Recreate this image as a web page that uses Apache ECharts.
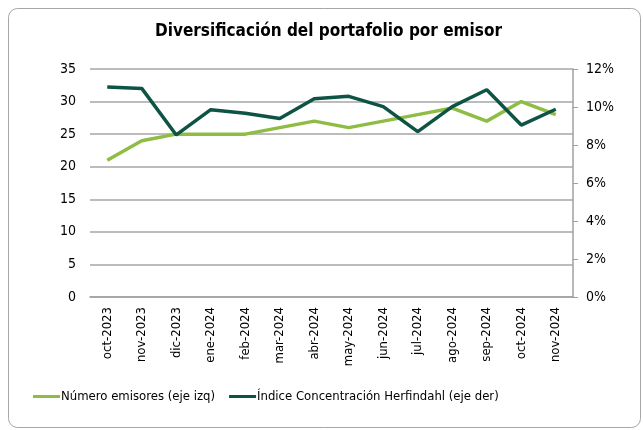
<!DOCTYPE html>
<html><head><meta charset="utf-8">
<script src="https://cdn.jsdelivr.net/npm/echarts@6/dist/echarts.min.js"></script>
<style>html,body{margin:0;padding:0;background:#fff}#c{width:643px;height:430px}</style>
</head><body><div id="c"></div>
<script>
const categories = ['oct-2023','nov-2023','dic-2023','ene-2024','feb-2024','mar-2024','abr-2024','may-2024','jun-2024','jul-2024','ago-2024','sep-2024','oct-2024','nov-2024'];
const numeroEmisores = [21,24,25,25,25,26,27,26,27,28,29,27,30,28];
const herfindahl = [0.1105,0.1098,0.0853,0.0986,0.0967,0.0939,0.1044,0.1056,0.1002,0.0870,0.1002,0.1091,0.0905,0.0988];
const leftTicks = {min:0,max:35,interval:5};
const rightTicks = {min:0,max:0.12,interval:0.02};

const chart = echarts.init(document.getElementById('c'), null, {renderer:'canvas'});
const font = "'DejaVu Sans Condensed','DejaVu Sans',sans-serif";
chart.setOption({
  animation:false,
  graphic:[{type:'rect',shape:{x:8.5,y:8.5,width:632,height:419,r:9},style:{fill:'none',stroke:'#a6a6a6',lineWidth:1},silent:true}],
  title:{text:'Diversificación del portafolio por emisor',left:150,top:18,
    textStyle:{fontFamily:font,fontSize:17,fontWeight:'bold',color:'#000'}},
  legend:{bottom:22,left:28,itemWidth:27,itemHeight:3,itemGap:14,icon:'rect',
    textStyle:{fontFamily:font,fontSize:13,color:'#000',padding:[0,0,0,-4]},
    data:['Número emisores (eje izq)','Índice Concentración Herfindahl (eje der)']},
  grid:{left:90,right:70,top:69,bottom:133},
  xAxis:{type:'category',data:categories,boundaryGap:true,
    axisLine:{lineStyle:{color:'#a0a0a0',width:1.5}},axisTick:{show:false},
    axisLabel:{rotate:90,fontFamily:font,fontSize:13,color:'#000',margin:10}},
  yAxis:[{type:'value',min:leftTicks.min,max:leftTicks.max,interval:leftTicks.interval,
    axisLine:{show:false},axisTick:{show:false},
    splitLine:{lineStyle:{color:'#a6a6a6',width:1.5}},
    axisLabel:{fontFamily:font,fontSize:14,color:'#000',margin:14}},
   {type:'value',min:rightTicks.min,max:rightTicks.max,interval:rightTicks.interval,position:'right',
    axisLine:{show:true,lineStyle:{color:'#a0a0a0',width:1.5}},
    axisTick:{show:true,length:5,lineStyle:{color:'#a0a0a0'}},
    splitLine:{show:false},
    axisLabel:{fontFamily:font,fontSize:14,color:'#000',margin:13,formatter:v=>Math.round(v*100)+'%'}}],
  series:[
    {name:'Número emisores (eje izq)',type:'line',yAxisIndex:0,data:numeroEmisores,symbol:'none',
      lineStyle:{color:'#8fbc45',width:3.5},itemStyle:{color:'#8fbc45'}},
    {name:'Índice Concentración Herfindahl (eje der)',type:'line',yAxisIndex:1,data:herfindahl,symbol:'none',
      lineStyle:{color:'#0d5444',width:3.5},itemStyle:{color:'#0d5444'}}
  ]
});
</script></body></html>
